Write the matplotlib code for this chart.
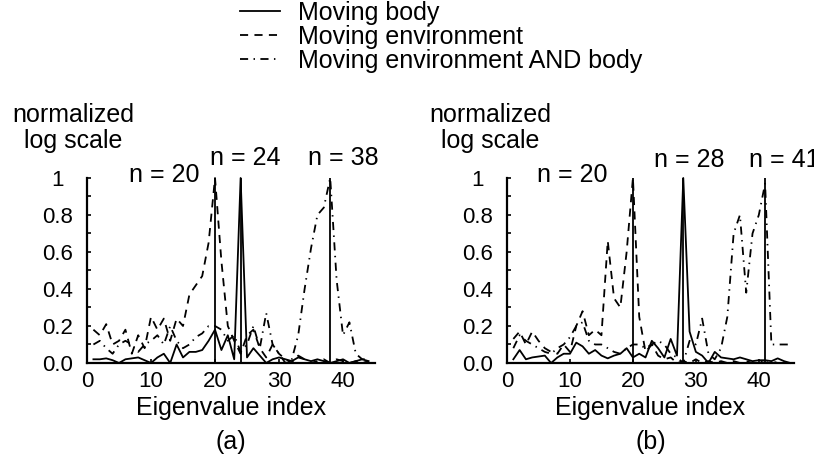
#!/usr/bin/env python3
# Normalized eigenvalue spectra (log scale) for the three motion cases
import numpy as np
import matplotlib
matplotlib.use("Agg")
import matplotlib.pyplot as plt

plt.rcParams['font.family'] = ['Liberation Sans', 'DejaVu Sans']

# Panel (a) data, eigenvalue index 1..44
idx_a = np.arange(1, 45)
body_a = [0.02, 0.02, 0.025, 0.015, 0.0, 0.02, 0.025, 0.03, 0.015, 0.0,
          0.03, 0.05, 0.0, 0.1, 0.03, 0.06, 0.06, 0.07, 0.12, 0.18,
          0.07, 0.15, 0.02, 1.0, 0.03, 0.08, 0.04, 0.0, 0.02, 0.03,
          0.02, 0.01, 0.03, 0.02, 0.01, 0.02, 0.01, 0.0, 0.01, 0.02,
          0.0, 0.01, 0.02, 0.01]
env_a = [0.18, 0.15, 0.21, 0.1, 0.12, 0.18, 0.05, 0.15, 0.08, 0.25,
         0.18, 0.24, 0.12, 0.24, 0.2, 0.37, 0.42, 0.47, 0.65, 1.0,
         0.55, 0.2, 0.12, 0.05, 0.15, 0.18, 0.08, 0.03, 0.1, 0.05,
         0.02, 0.0, 0.04, 0.02, 0.0, 0.01, 0.02, 0.0, 0.02, 0.01,
         0.0, 0.01, 0.0, 0.01]
both_a = [0.1, 0.12, 0.08, 0.05, 0.1, 0.12, 0.1, 0.06, 0.1, 0.12,
          0.15, 0.1, 0.2, 0.12, 0.08, 0.1, 0.14, 0.16, 0.2, 0.2,
          0.18, 0.12, 0.15, 0.06, 0.1, 0.2, 0.08, 0.27, 0.1, 0.05,
          0.0, 0.02, 0.15, 0.4, 0.62, 0.8, 0.84, 1.0, 0.45, 0.15,
          0.22, 0.05, 0.02, 0.02]
marks_a = [20, 24, 38]

# Panel (b) data, eigenvalue index 1..45
idx_b = np.arange(1, 46)
body_b = [0.02, 0.07, 0.02, 0.03, 0.035, 0.04, 0.0, 0.03, 0.05, 0.05,
          0.11, 0.09, 0.05, 0.07, 0.04, 0.025, 0.04, 0.05, 0.08, 0.03,
          0.05, 0.03, 0.12, 0.08, 0.03, 0.13, 0.04, 1.0, 0.17, 0.06,
          0.04, 0.0, 0.06, 0.03, 0.025, 0.02, 0.03, 0.02, 0.01, 0.015,
          0.015, 0.01, 0.025, 0.01, 0.0]
env_b = [0.13, 0.17, 0.1, 0.17, 0.12, 0.08, 0.06, 0.05, 0.1, 0.06,
         0.2, 0.28, 0.15, 0.18, 0.15, 0.66, 0.35, 0.3, 0.6, 1.0,
         0.25, 0.06, 0.1, 0.04, 0.02, 0.03, 0.0, 0.01, 0.0, 0.02,
         0.0, 0.01, 0.0, 0.01, 0.0, 0.01, 0.0, 0.01, 0.0, 0.01,
         0.0, 0.01, 0.0, 0.0, 0.0]
both_b = [0.08, 0.15, 0.12, 0.1, 0.08, 0.06, 0.05, 0.08, 0.1, 0.14,
          0.2, 0.22, 0.12, 0.1, 0.1, 0.08, 0.06, 0.05, 0.08, 0.1,
          0.1, 0.08, 0.1, 0.12, 0.1, 0.05, 0.03, 0.0, 0.12, 0.1,
          0.24, 0.05, 0.02, 0.08, 0.25, 0.7, 0.8, 0.38, 0.7, 0.8,
          0.97, 0.1, 0.1, 0.1, 0.1]
marks_b = [20, 28, 41]

yticks = [0.0, 0.2, 0.4, 0.6, 0.8, 1.0]
yticklabels = ['0.0', '0.2', '0.4', '0.6', '0.8', '1']
xticks = [0, 10, 20, 30, 40]

fig = plt.figure(figsize=(8.14, 4.61), dpi=100)
ax_a = fig.add_axes([0.1069, 0.2126, 0.3538, 0.4013])
ax_b = fig.add_axes([0.6229, 0.2126, 0.3526, 0.4013])

panels = [
    (ax_a, idx_a, body_a, env_a, both_a, marks_a, 45.0, '(a)', -0.049,
     [(12.0, 0.978, 'n = 20'), (24.8, 1.07, 'n = 24'), (40.0, 1.07, 'n = 38')]),
    (ax_b, idx_b, body_b, env_b, both_b, marks_b, 45.6, '(b)', -0.059,
     [(10.3, 0.978, 'n = 20'), (29.0, 1.06, 'n = 28'), (44.1, 1.06, 'n = 41')]),
]

lines = []
for ax, idx, body, env, both, marks, xmax, tag, lx, notes in panels:
    l1, = ax.plot(idx, body, color='black', lw=1.3, clip_on=False)
    l2, = ax.plot(idx, env, color='black', lw=1.3, linestyle=(0, (4.5, 3.5)), clip_on=False)
    l3, = ax.plot(idx, both, color='black', lw=1.3, linestyle=(0, (4.5, 3, 0.8, 3)), clip_on=False)
    ax.vlines(marks, 0, 1, color='black', lw=1.3)
    lines = [l1, l2, l3]

    ax.set_xlim(0, xmax)
    ax.set_ylim(0, 1)
    for s in ['top', 'right']:
        ax.spines[s].set_visible(False)
    for s in ['left', 'bottom']:
        ax.spines[s].set_linewidth(1.6)

    ax.set_yticks(yticks)
    ax.set_yticklabels(yticklabels, ha='center')
    ax.set_yticks(np.arange(0.1, 1.0, 0.2), minor=True)
    ax.set_xticks(xticks)
    ax.tick_params(axis='y', which='both', direction='in', length=3, width=1.2,
                   pad=21, labelsize=16)
    ax.tick_params(axis='x', which='both', direction='in', length=3, width=1.2,
                   pad=6, labelsize=16)
    ax.set_xlabel('Eigenvalue index', fontsize=18, labelpad=3)

    ax.text(0.5, -0.36, tag, transform=ax.transAxes, ha='center', va='top', fontsize=18)
    ax.text(lx, 1.303, 'normalized', transform=ax.transAxes, ha='center', va='baseline', fontsize=18)
    ax.text(lx, 1.162, 'log scale', transform=ax.transAxes, ha='center', va='baseline', fontsize=18)
    for x, y, s in notes:
        ax.text(x, y, s, ha='center', va='baseline', fontsize=18)

fig.legend(lines, ['Moving body', 'Moving environment', 'Moving environment AND body'],
           loc='upper left', bbox_to_anchor=(240 / 814, 1 - 1 / 461), frameon=False,
           fontsize=18, handlelength=1.6, handletextpad=0.7, labelspacing=0.0,
           borderpad=0, borderaxespad=0)

fig.savefig('out.png', dpi=100)
